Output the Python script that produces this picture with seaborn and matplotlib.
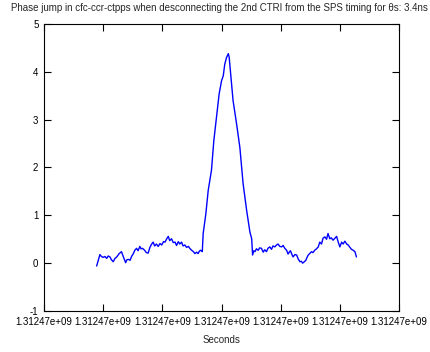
import matplotlib
matplotlib.use("Agg")
import matplotlib.pyplot as plt
import seaborn as sns
import pandas as pd

# time offsets (s) and phase (ns)
t = [178, 183, 189, 194, 200, 206, 212, 217, 223, 228, 234, 240, 246, 254, 262,
     269, 276, 280, 285, 291, 296, 302, 307, 313, 318, 324, 328, 333, 340, 346,
     352, 358, 364, 369, 374, 380, 386, 392, 398, 404, 409, 414, 420, 425, 431,
     437, 443, 448, 454, 459, 465, 470, 476, 482, 488, 494, 499, 505, 510, 516,
     521, 525, 529, 535,
     538, 547, 555, 566, 574, 583, 592, 600, 606, 611, 617, 623, 626,
     631, 639, 651, 662, 673, 685, 696, 702,
     705, 709, 713, 718, 724, 729, 735, 741, 746, 752, 757, 763, 769, 774, 780,
     786, 791, 797, 803, 808, 814, 820, 825, 829, 833, 838, 842, 848, 854, 859,
     865, 870, 874, 880, 885, 889, 893, 898, 904, 909, 915, 921, 927, 932, 938,
     943, 949, 955, 960, 966, 971, 977, 983, 989, 994, 1000, 1006, 1011, 1017,
     1023, 1028, 1034, 1039, 1045, 1051, 1056]
phase = [-0.06, 0.05, 0.18, 0.14, 0.12, 0.14, 0.10, 0.15, 0.13, 0.07, 0.03, 0.10,
         0.13, 0.20, 0.24, 0.12, 0.01, 0.07, 0.08, 0.06, 0.14, 0.20, 0.27, 0.31,
         0.26, 0.35, 0.30, 0.31, 0.27, 0.22, 0.21, 0.33, 0.40, 0.44, 0.36, 0.40,
         0.35, 0.41, 0.38, 0.45, 0.44, 0.50, 0.56, 0.47, 0.51, 0.43, 0.44, 0.37,
         0.45, 0.40, 0.44, 0.36, 0.38, 0.33, 0.35, 0.30, 0.27, 0.24, 0.20, 0.23,
         0.20, 0.25, 0.27, 0.24,
         0.62, 1.03, 1.52, 1.94, 2.56, 3.05, 3.54, 3.81, 3.92, 4.16, 4.30, 4.38,
         4.30, 3.95, 3.40, 2.91, 2.42, 1.66, 1.10, 0.65, 0.51,
         0.17, 0.26, 0.24, 0.30, 0.27, 0.32, 0.31, 0.23, 0.28, 0.24, 0.31, 0.34,
         0.29, 0.36, 0.34, 0.38, 0.40, 0.35, 0.34, 0.37, 0.31, 0.27, 0.19, 0.23,
         0.26, 0.18, 0.13, 0.18, 0.17, 0.09, 0.03, 0.04, 0.00, 0.03, 0.06, 0.12,
         0.17, 0.20, 0.24, 0.22, 0.27, 0.30, 0.34, 0.44, 0.40, 0.52, 0.55, 0.50,
         0.62, 0.51, 0.53, 0.48, 0.52, 0.56, 0.45, 0.34, 0.44, 0.40, 0.46, 0.40,
         0.38, 0.33, 0.29, 0.27, 0.24, 0.13]
xticks = [0, 200, 400, 600, 800, 1000, 1200]
xtick_labels = ["1.31247e+09"] * 7
yticks = [-1, 0, 1, 2, 3, 4, 5]
title = "Phase jump in cfc-ccr-ctpps when desconnecting the 2nd CTRI from the SPS timing for θs: 3.4ns"

sns.set_style("ticks")
plt.rcParams['font.family'] = ['Liberation Sans', 'DejaVu Sans']

fig = plt.figure(figsize=(4.3, 3.52), dpi=100)
ax = fig.add_axes([0.1023, 0.1165, 0.8257, 0.8153])
df = pd.DataFrame({"t": t, "phase": phase})
sns.lineplot(data=df, x="t", y="phase", ax=ax, color="#0000ff", linewidth=1.0)

ax.set_xlim(0, 1200)
ax.set_ylim(-1, 5)
ax.set_xticks(xticks)
ax.set_xticklabels(xtick_labels)
ax.set_yticks(yticks)
ax.set_yticklabels([str(v) for v in yticks])
ax.tick_params(direction="in", length=5, width=0.8, labelsize=7, colors="black",
               top=True, right=True, pad=4)
for s in ax.spines.values():
    s.set_linewidth(0.8)
    s.set_color("black")
ax.set_xlabel("Seconds", fontsize=7, labelpad=6)
ax.set_ylabel("")
fig.text(11 / 430, 0.977, title, ha="left", va="center", fontsize=7)
fig.savefig("out.png", dpi=100)
